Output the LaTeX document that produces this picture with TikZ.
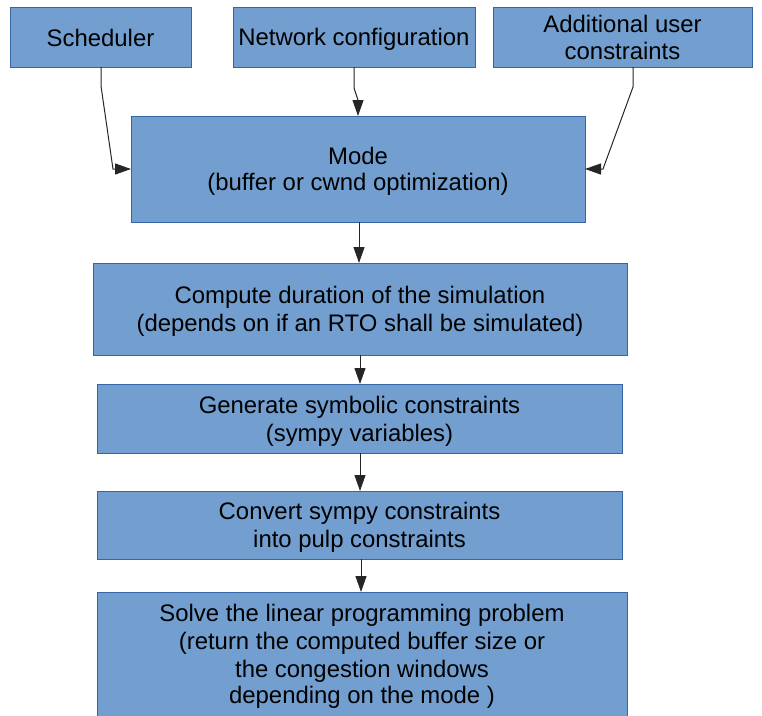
\documentclass[tikz,border=0pt]{standalone}
\usepackage{fontspec}
\setmainfont{Liberation Sans}
\usetikzlibrary{arrows.meta,calc}
\definecolor{boxfill}{HTML}{729FCF}
\definecolor{boxline}{HTML}{3465A4}
\newcommand{\boxfont}{\fontsize{23.9}{26.5}\selectfont}
\newcommand{\ls}{\rule[-4pt]{0pt}{26pt}}
\begin{document}
\begin{tikzpicture}[x=1pt,y=-1pt,
  box/.style={draw=boxline, fill=boxfill, line width=1pt, align=center,
    inner sep=0pt, outer sep=0pt, font=\boxfont, text=black},
  conn/.style={draw=black!85, line width=1pt,
    -{Triangle[length=16pt,width=11pt]}}]
\useasboundingbox (0,0) rectangle (762,715);
% top row
\node[box, minimum width=181pt, minimum height=60pt] (sched) at (100.5,37) {\ls Scheduler};
\node[box, minimum width=242pt, minimum height=60pt] (net) at (354,37) {\ls Network configuration};
\node[box, minimum width=259pt, minimum height=60pt] (user) at (622.5,37) {\ls Additional user\\\ls constraints};
% main column
\node[box, minimum width=454pt, minimum height=106pt] (mode) at (358,169) {\ls Mode\\\ls (buffer or cwnd optimization)};
\node[box, minimum width=534pt, minimum height=92pt] (dur) at (360,309) {\ls Compute duration of the simulation\\\ls (depends on if an RTO shall be simulated)};
\node[box, minimum width=525pt, minimum height=69pt] (gen) at (359.5,418.5) {\ls Generate symbolic constraints\\\ls (sympy variables)};
\node[box, minimum width=525pt, minimum height=68pt] (conv) at (359.5,525) {\ls Convert sympy constraints\\\ls into pulp constraints};
\node[box, minimum width=530pt, minimum height=128pt] (solve) at (362,656) {\ls Solve the linear programming problem\\\ls (return the computed buffer size or\\\ls the congestion windows\\\rule[-9pt]{0pt}{26pt}depending on the mode )};
% bend points
\coordinate (s1) at (101,86);
\coordinate (s2) at (113,169);
\coordinate (n1) at (354,88);
\coordinate (n2) at (358,100);
\coordinate (u1) at (633,87);
\coordinate (u2) at (603,169);
% connectors
\draw[conn] (sched.south -| s1) -- (s1) -- (s2) -- (mode.west |- s2);
\draw[conn] (net.south -| n1) -- (n1) -- (n2) -- (mode.north -| n2);
\draw[conn] (user.south -| u1) -- (u1) -- (u2) -- (mode.east |- u2);
\draw[conn] (mode.south -| 359,0) -- (dur.north -| 359,0);
\draw[conn] (dur.south -| 360,0) -- (gen.north -| 360,0);
\draw[conn] (gen.south -| 360,0) -- (conv.north -| 360,0);
\draw[conn] (conv.south -| 361,0) -- (solve.north -| 361,0);
\end{tikzpicture}
\end{document}
